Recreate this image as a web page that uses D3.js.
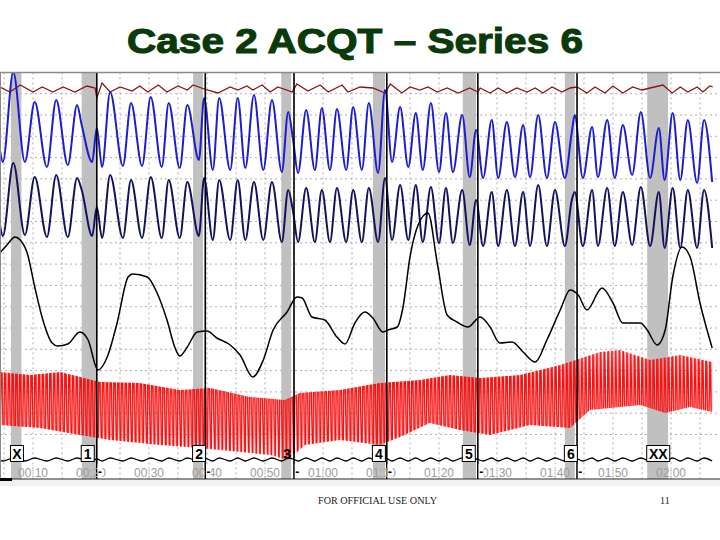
<!DOCTYPE html>
<html>
<head>
<meta charset="utf-8">
<script src="https://cdn.jsdelivr.net/npm/d3@7"></script>
<style>
  body { margin: 0; background: #fff; }
  svg { display: block; }
</style>
</head>
<body>
<script>
// question windows (seconds)
var qLabels = ["X", "1", "2", "3", "4", "5", "6", "XX"];
var qOn = [6.2, 18.4, 37.6, 52.8, 68.6, 84.1, 101.7, 115.9];
var qOff = [8.0, 21.0, 39.3, 54.5, 70.7, 86.4, 103.4, 119.5];
var answers = [21.0, 39.7, 55.0, 71.0, 86.7, 103.8];
var timeTicks = [10, 20, 30, 40, 50, 60, 70, 80, 90, 100, 110, 120];

// breathing cycle extremes, shared by both pneumo channels and the movement pad
var breathT = [4.3, 4.8, 6.6, 8.6, 10.3, 12.4, 14.0, 16.0, 17.6, 18.4, 20.2, 21.0, 21.9, 23.3, 25.5, 26.9, 28.8, 30.3, 32.2, 33.4,
  35.3, 36.6, 38.6, 39.5, 41.0, 42.1, 44.0, 45.3, 46.6, 48.1, 49.7, 51.2, 52.9, 54.0, 54.8, 55.7, 57.1, 58.6, 59.8, 61.2,
  62.4, 64.0, 65.2, 66.7, 67.9, 69.5, 70.7, 71.9, 73.3, 74.7, 76.0, 77.2, 78.6, 80.0, 81.2, 82.4, 84.0, 85.3, 86.4, 87.6,
  89.1, 90.2, 91.7, 93.1, 94.5, 95.7, 97.1, 98.6, 100.0, 101.7, 102.9, 103.4, 104.8, 106.4, 107.4, 109.0, 110.3, 111.7, 113.3, 114.8,
  116.4, 117.9, 118.9, 120.3, 121.6, 122.9, 124.5, 125.7, 127.1];
var pneumoUpper = [30, 18, 108, 18, 78, 13, 80, 15, 75, 55, 18, 52, 13, 88, 14, 77, 14, 83, 13, 77,
  12, 75, 20, 82, 10, 82, 10, 82, 12, 85, 10, 80, 8, 68, 42, 7, 70, 10, 72, 10,
  71, 10, 73, 10, 77, 7, 90, 18, 73, 13, 67, 10, 77, 8, 67, 8, 65, 3, 50, 2,
  60, 2, 58, 3, 55, 3, 65, 2, 58, 2, 48, 65, 2, 53, 3, 60, 2, 55, 5, 68,
  2, 52, 0, 67, 0, 60, -3, 60, -2];
var pneumoLower = [30, 19, 92, 20, 78, 18, 80, 18, 77, 65, 19, 48, 17, 80, 17, 75, 17, 78, 17, 75,
  17, 73, 19, 77, 15, 75, 15, 75, 15, 73, 15, 73, 13, 65, 45, 13, 67, 13, 65, 13,
  67, 13, 65, 13, 67, 13, 77, 15, 70, 15, 70, 13, 68, 12, 67, 12, 65, 10, 55, 9,
  63, 9, 65, 9, 63, 9, 70, 9, 65, 9, 55, 63, 9, 65, 9, 67, 9, 63, 10, 68,
  9, 63, 7, 67, 7, 65, 7, 65, 7];
var movement = [3, 2, 5, 2, 5, 2, 5, 2, 5, 4, 2, 4, 2, 5, 2, 5, 2, 5, 2, 5,
  2, 5, 2, 5, 2, 5, 2, 5, 2, 5, 2, 5, 2, 5, 4, 2, 5, 2, 5, 2,
  5, 2, 5, 2, 5, 2, 5, 2, 5, 2, 5, 2, 5, 2, 5, 2, 5, 2, 4, 2,
  5, 2, 5, 2, 5, 2, 5, 2, 5, 2, 4, 5, 2, 5, 2, 5, 2, 5, 2, 5,
  2, 5, 2, 5, 2, 5, 2, 5, 2];

// top channel [t, value]
var sensor = [[4.3, 13], [6.0, 8], [7.8, 15], [10.0, 8], [11.6, 13], [13.4, 8], [15.2, 13], [17.2, 8], [19.3, 14], [20.7, 12],
  [21.0, 2], [21.9, 17], [23.3, 8], [25.0, 13], [27.1, 9], [28.4, 14], [29.8, 8], [31.6, 15], [33.1, 8], [35.0, 14],
  [36.6, 10], [37.6, 15], [40.0, 10], [41.9, 7], [44.0, 13], [45.3, 10], [46.9, 14], [47.9, 10], [49.5, 15], [50.9, 8],
  [52.2, 13], [54.7, 8], [55.5, 16], [57.4, 9], [59.5, 15], [60.9, 8], [63.3, 15], [64.3, 8], [66.4, 13], [68.6, 12],
  [70.7, 7], [71.6, 16], [73.6, 7], [75.0, 13], [76.7, 10], [78.1, 13], [79.7, 8], [81.4, 12], [83.3, 7], [85.3, 12],
  [86.7, 8], [87.1, 12], [88.8, 7], [90.2, 12], [91.7, 7], [93.4, 12], [95.2, 8], [96.6, 12], [97.9, 7], [99.5, 13],
  [101.2, 8], [102.6, 12], [103.8, 13], [105.5, 7], [106.9, 13], [108.6, 7], [110.0, 14], [111.7, 7], [113.4, 13], [115.0, 10],
  [116.4, 12], [118.6, 15], [120.2, 7], [121.6, 13], [122.9, 8], [124.5, 13], [125.5, 8], [126.7, 14], [127.2, 13]];

// electrodermal [t, value]
var eda = [[4.3, 147], [5.5, 155], [6.9, 163], [7.8, 160], [9.0, 147], [10.3, 113], [11.7, 80], [13.3, 57], [14.3, 54], [16.0, 56],
  [18.1, 68], [19.5, 60], [21.2, 30], [22.8, 43], [24.5, 77], [26.4, 123], [27.2, 126], [29.7, 123], [31.4, 107], [33.1, 80],
  [34.5, 52], [35.3, 44], [36.6, 53], [38.3, 68], [40.0, 69], [41.7, 62], [44.0, 55], [45.7, 45], [47.9, 23], [49.7, 40],
  [51.4, 70], [53.8, 88], [55.5, 103], [56.4, 102], [58.1, 83], [60.3, 80], [62.4, 63], [63.8, 56], [65.5, 77], [67.2, 88],
  [68.6, 82], [70.3, 68], [71.2, 70], [72.8, 73], [73.8, 93], [75.0, 143], [76.4, 175], [78.1, 187], [79.7, 137], [81.4, 85],
  [83.1, 78], [85.0, 73], [87.1, 83], [88.8, 73], [90.5, 57], [92.6, 58], [94.5, 48], [96.6, 38], [98.6, 60], [100.9, 90],
  [102.6, 110], [104.0, 105], [105.5, 90], [108.1, 112], [110.0, 97], [111.7, 77], [114.7, 77], [115.9, 70], [117.6, 55], [119.0, 70],
  [120.3, 123], [121.9, 153], [123.3, 143], [125.0, 97], [127.1, 52]];

// cardio band, systolic tops and diastolic floors [t, value]
var cardioTop = [[4.3, 88], [9.5, 85], [14.7, 88], [21.6, 78], [28.4, 77], [35.3, 70], [40.5, 72], [47.4, 63], [53.4, 60], [56.0, 67],
  [62.9, 70], [69.8, 77], [76.7, 80], [81.9, 85], [87.1, 82], [94.0, 85], [100.9, 95], [107.8, 108], [111.2, 110], [116.4, 100],
  [121.6, 105], [127.1, 98]];
var cardioBottom = [[4.3, 35], [11.2, 32], [18.1, 25], [23.3, 20], [31.9, 15], [38.8, 12], [45.7, 8], [50.9, 5], [54.0, 0], [56.9, 15],
  [62.9, 20], [69.8, 15], [73.3, 23], [78.4, 37], [83.6, 30], [88.8, 25], [95.7, 35], [102.6, 32], [106.0, 50], [114.7, 55],
  [119.0, 47], [123.3, 53], [127.1, 48]];
var pulseSpacing = 0.65; // seconds per beat

var W = 720, H = 540, plotTop = 72.4, plotBottom = 479;

var svg = d3.select("body").append("svg").attr("width", W).attr("height", H);

var x = d3.scaleLinear().domain([0, 120]).range([-25, 671]);
var yGrid = d3.scaleLinear().domain([0, 19]).range([477.1, 72.4]);
var ySensor = d3.scaleLinear().domain([0, 20]).range([100, 80]);
var yPneuU = d3.scaleLinear().domain([0, 100]).range([180, 80]);
var yPneuL = d3.scaleLinear().domain([0, 100]).range([255, 155]);
var yEda = d3.scaleLinear().domain([0, 160]).range([400, 240]);
var yCardio = d3.scaleLinear().domain([0, 120]).range([460, 340]);
var yMove = d3.scaleLinear().domain([0, 10]).range([463, 453]);

var sans = "'Liberation Sans', Arial, sans-serif";
var serif = "'Liberation Serif', 'Times New Roman', serif";

// title + footer
svg.append("text").attr("x", 127).attr("y", 53)
  .attr("textLength", 456).attr("lengthAdjust", "spacingAndGlyphs")
  .style("font-family", sans).style("font-weight", "bold")
  .style("font-size", "35px").attr("fill", "#0a3a0a").attr("stroke", "#0a3a0a").attr("stroke-width", 1.1)
  .text("Case 2 ACQT \u2013 Series 6");

svg.append("rect").attr("x", 0).attr("y", 480).attr("width", W).attr("height", 6).attr("fill", "#f1f1f1");
svg.append("text").attr("x", 318).attr("y", 504).attr("textLength", 119).attr("lengthAdjust", "spacingAndGlyphs")
  .style("font-family", serif).style("font-size", "10px").attr("fill", "#222")
  .text("FOR OFFICIAL USE ONLY");
svg.append("text").attr("x", 660).attr("y", 504)
  .style("font-family", serif).style("font-size", "10px").attr("fill", "#222")
  .text("11");

var defs = svg.append("defs");
defs.append("clipPath").attr("id", "plot").append("rect")
  .attr("x", 0).attr("y", plotTop).attr("width", W).attr("height", plotBottom - plotTop);

// beat texture for the cardio band
var beatW = x(pulseSpacing) - x(0);
var pat = defs.append("pattern").attr("id", "pulse").attr("patternUnits", "userSpaceOnUse")
  .attr("x", 0).attr("y", 330).attr("width", beatW).attr("height", 140);
pat.append("path").attr("d", "M0,140 L" + (beatW * 0.3) + ",0 L" + beatW + ",140")
  .attr("fill", "none").attr("stroke", "#fa1010").attr("stroke-width", 1.5);

var g = svg.append("g").attr("clip-path", "url(#plot)");

// grid
g.selectAll(".hg").data(d3.range(2, 19)).enter().append("line")
  .attr("x1", 0).attr("x2", W).attr("y1", d => yGrid(d)).attr("y2", d => yGrid(d))
  .attr("stroke", "#9a9a9a").attr("stroke-dasharray", "2,3").attr("stroke-width", 0.8);
g.selectAll(".vg").data(d3.range(5, 130, 5)).enter().append("line")
  .attr("x1", d => x(d)).attr("x2", d => x(d)).attr("y1", plotTop).attr("y2", plotBottom)
  .attr("stroke", "#9a9a9a").attr("stroke-dasharray", "2,3").attr("stroke-width", 0.8);

// question windows
g.selectAll(".qb").data(qOn).enter().append("rect")
  .attr("x", d => x(d)).attr("y", plotTop)
  .attr("width", (d, i) => x(qOff[i]) - x(d)).attr("height", plotBottom - plotTop)
  .attr("fill", "#c0c0c0");

svg.append("line").attr("x1", 0).attr("x2", W).attr("y1", plotTop).attr("y2", plotTop)
  .attr("stroke", "#8a8a8a").attr("stroke-width", 1.5);
svg.append("line").attr("x1", 0.5).attr("x2", 0.5).attr("y1", plotTop).attr("y2", plotBottom)
  .attr("stroke", "#8a8a8a").attr("stroke-width", 1);

function trace(tArr, vArr, y, curve) {
  return d3.line().x((d, i) => x(tArr[i])).y((d, i) => y(vArr[i])).curve(curve)(vArr);
}
function pairs(y, curve) {
  return d3.line().x(d => x(d[0])).y(d => y(d[1])).curve(curve);
}

// cardio
var band = cardioTop.concat(cardioBottom.slice().reverse());
g.append("path").attr("d", pairs(yCardio, d3.curveLinear)(band) + "Z")
  .attr("fill", "url(#pulse)");

g.append("path").attr("d", pairs(ySensor, d3.curveLinear)(sensor))
  .attr("fill", "none").attr("stroke", "#8b1414").attr("stroke-width", 1.3);
g.append("path").attr("d", trace(breathT, pneumoUpper, yPneuU, d3.curveMonotoneX))
  .attr("fill", "none").attr("stroke", "#1c1cd0").attr("stroke-width", 2);
g.append("path").attr("d", trace(breathT, pneumoLower, yPneuL, d3.curveMonotoneX))
  .attr("fill", "none").attr("stroke", "#12125e").attr("stroke-width", 2);
g.append("path").attr("d", pairs(yEda, d3.curveMonotoneX)(eda))
  .attr("fill", "none").attr("stroke", "#000").attr("stroke-width", 1.5);
g.append("path").attr("d", trace(breathT, movement, yMove, d3.curveMonotoneX))
  .attr("fill", "none").attr("stroke", "#000").attr("stroke-width", 1.3);

// answer lines
g.selectAll(".ans").data(answers).enter().append("line")
  .attr("x1", d => x(d)).attr("x2", d => x(d)).attr("y1", plotTop).attr("y2", plotBottom)
  .attr("stroke", "#000").attr("stroke-width", 1.6);

// time labels
svg.selectAll(".tl").data(timeTicks).enter().append("text")
  .attr("x", d => x(d)).attr("y", 477).attr("text-anchor", "middle")
  .style("font-family", sans).style("font-size", "12px")
  .attr("fill", "#9c9c9c")
  .text(d => d3.format("02")(Math.floor(d / 60)) + ":" + d3.format("02")(d % 60));

// answer marks
var am = svg.selectAll(".am").data(answers).enter().append("g");
am.append("rect").attr("x", d => x(d) + 0.8).attr("y", 464).attr("width", 5).attr("height", 14).attr("fill", "#fff");
am.append("text").attr("x", d => x(d) + 3.3).attr("y", 476).attr("text-anchor", "middle")
  .style("font-family", sans).style("font-weight", "bold").style("font-size", "12px")
  .text("-");

// question labels
var ql = svg.selectAll(".ql").data(qLabels).enter().append("g");
ql.filter(d => d !== "3").append("rect")
  .attr("x", d => x(qOn[qLabels.indexOf(d)]) - 0.5).attr("y", 445.5)
  .attr("width", d => d.length * 10 + 3).attr("height", 16)
  .attr("fill", "#fff").attr("stroke", "#000").attr("stroke-width", 1);
ql.append("text")
  .attr("x", (d, i) => x(qOn[i]) - 0.5 + (d.length * 10 + 3) / 2).attr("y", 459)
  .attr("text-anchor", "middle")
  .style("font-family", sans).style("font-weight", "bold").style("font-size", "14px")
  .text(d => d);

svg.append("line").attr("x1", 0).attr("x2", W).attr("y1", plotBottom).attr("y2", plotBottom)
  .attr("stroke", "#222").attr("stroke-width", 1);
svg.append("rect").attr("x", 0).attr("y", plotBottom - 1).attr("width", 12).attr("height", 3).attr("fill", "#000");
</script>
</body>
</html>
